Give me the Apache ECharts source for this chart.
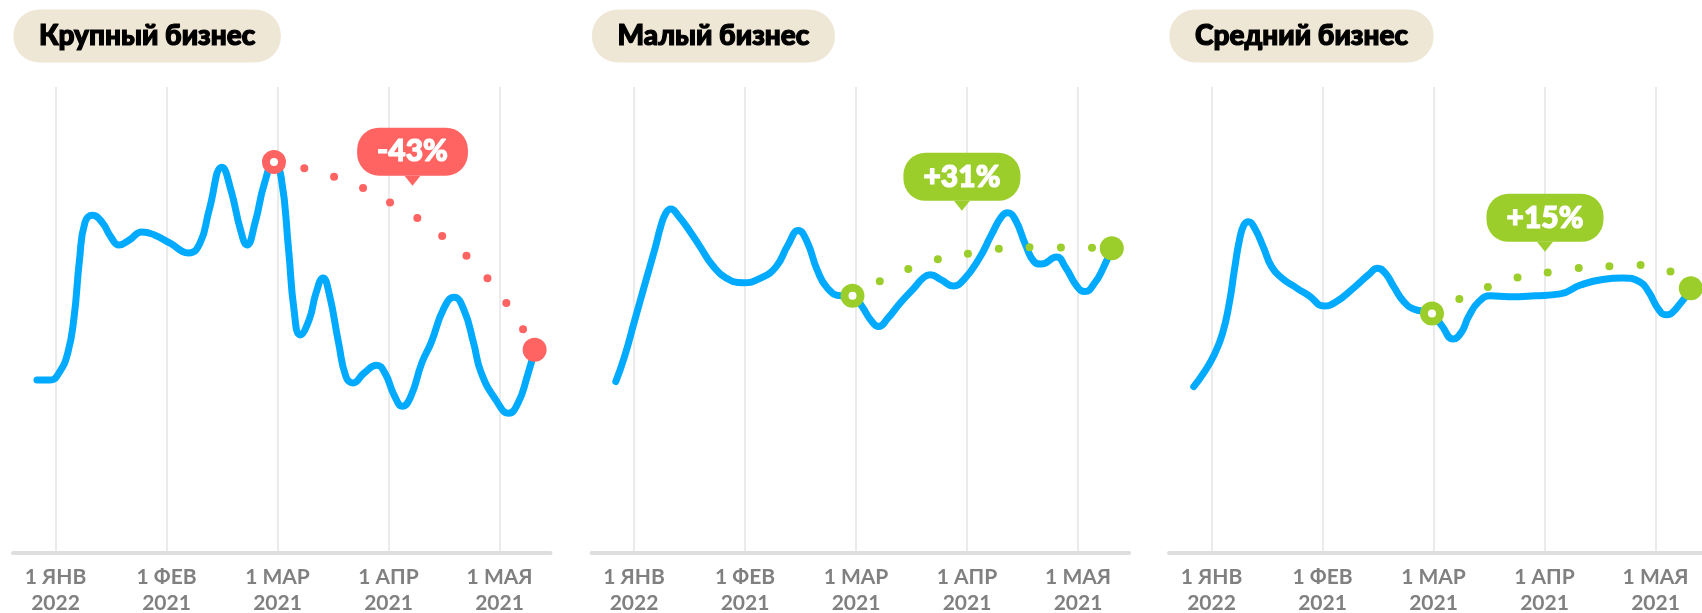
<!DOCTYPE html>
<html>
<head>
<meta charset="utf-8">
<script src="https://cdn.jsdelivr.net/npm/echarts@6/dist/echarts.min.js"></script>
<style>
  html, body { margin: 0; padding: 0; background: #fff; }
  #chart { width: 1702px; height: 613px; }
</style>
</head>
<body>
<div id="chart"></div>
<script>
// x: months from the first tick (1 ЯНВ), y: index 0..100
const titles = ['Крупный бизнес', 'Малый бизнес', 'Средний бизнес']
const tickValues = [0, 1, 2, 3, 4]
const tickLabels = ['1 ЯНВ\n2022', '1 ФЕВ\n2021', '1 МАР\n2021', '1 АПР\n2021', '1 МАЯ\n2021']

const largeLine = [
  [-0.167, 37.1], [-0.05, 37.1], [0.03, 38.6], [0.11, 42.9], [0.167, 50.6], [0.216, 62.9],
  [0.266, 71.0], [0.333, 72.5], [0.419, 71.0], [0.5, 67.8], [0.572, 66.1], [0.667, 67.2],
  [0.779, 68.9], [0.896, 68.2], [1.032, 66.5], [1.2, 64.4], [1.302, 66.5], [1.383, 73.5],
  [1.5, 82.8], [1.581, 77.8], [1.667, 69.3], [1.725, 66.1], [1.797, 70.8], [1.883, 79.4],
  [1.968, 83.9], [2.032, 80.7], [2.1, 65.0], [2.149, 52.1], [2.203, 46.8], [2.284, 50.0],
  [2.347, 55.8], [2.41, 59.0], [2.464, 55.8], [2.55, 45.1], [2.617, 37.8], [2.68, 36.5],
  [2.779, 38.6], [2.893, 40.3], [2.968, 38.6], [3.05, 33.9], [3.126, 31.5], [3.199, 33.5],
  [3.3, 40.8], [3.383, 45.1], [3.5, 52.6], [3.59, 54.9], [3.68, 52.1], [3.766, 45.1],
  [3.833, 38.8], [3.968, 32.8], [4.083, 30.0], [4.167, 32.2], [4.248, 37.8], [4.316, 43.6]
]
const largeTrend = [[1.968, 83.9], [2.523, 80.6], [3.05, 74.7], [3.527, 67.2], [3.941, 57.5], [4.316, 43.6]]
const largeMarks = [[1.968, 83.9], [4.316, 43.6]]
const largeChange = '-43%'
const largeCallout = [3.216, 79.9]

const smallLine = [
  [-0.164, 36.8], [-0.086, 42.1], [0.007, 50.0], [0.1, 57.9], [0.193, 65.7], [0.24, 70.0],
  [0.286, 72.9], [0.332, 73.8], [0.395, 72.5], [0.504, 69.0], [0.596, 65.7], [0.705, 61.8],
  [0.829, 59.0], [0.984, 58.0], [1.14, 59.0], [1.279, 61.4], [1.387, 66.1], [1.48, 69.2],
  [1.559, 66.8], [1.651, 60.7], [1.744, 56.8], [1.868, 55.2], [1.968, 55.2], [2.054, 52.9],
  [2.132, 50.0], [2.204, 48.6], [2.287, 50.4], [2.396, 53.6], [2.52, 56.8], [2.613, 59.2],
  [2.668, 59.7], [2.768, 58.6], [2.877, 57.3], [2.969, 58.6], [3.109, 63.2], [3.218, 68.2],
  [3.311, 72.2], [3.367, 73.0], [3.435, 71.5], [3.528, 66.1], [3.605, 62.5], [3.668, 62.0],
  [3.807, 63.5], [3.885, 61.4], [3.994, 57.1], [4.062, 56.1], [4.149, 57.9], [4.226, 61.1],
  [4.304, 65.4]
]
const smallTrend = [[1.968, 55.2], [2.489, 61.1], [3.053, 64.4], [3.627, 65.6], [4.304, 65.4]]
const smallMarks = [[1.968, 55.2], [4.304, 65.4]]
const smallChange = '+31%'
const smallCallout = [2.954, 74.5]

const mediumLine = [
  [-0.16, 35.7], [-0.069, 38.7], [0.023, 42.5], [0.099, 47.1], [0.16, 53.6], [0.206, 60.7],
  [0.252, 67.2], [0.292, 70.4], [0.334, 71.1], [0.389, 69.7], [0.466, 65.7], [0.542, 61.4],
  [0.634, 59.0], [0.771, 56.8], [0.878, 55.2], [1.016, 53.0], [1.123, 53.9], [1.276, 56.8],
  [1.414, 59.7], [1.496, 61.1], [1.567, 60.0], [1.643, 57.1], [1.734, 53.9], [1.826, 52.3],
  [1.986, 51.4], [2.071, 48.9], [2.177, 45.9], [2.254, 47.5], [2.315, 50.7], [2.407, 53.9],
  [2.514, 55.2], [2.682, 55.0], [2.912, 55.2], [3.141, 55.6], [3.324, 57.5], [3.523, 58.7],
  [3.706, 59.0], [3.859, 58.2], [3.936, 56.1], [4.027, 52.3], [4.095, 51.1], [4.18, 52.3],
  [4.318, 56.8]
]
const mediumTrend = [[1.986, 51.4], [2.514, 57.3], [3.079, 60.4], [3.654, 61.6], [3.941, 61.8], [4.318, 56.8]]
const mediumMarks = [[1.986, 51.4], [4.318, 56.8]]
const mediumChange = '+15%'
const mediumCallout = [3.004, 65.7]

const BLUE = '#00aaff'
const RED = '#ff6462'
const GREEN = '#9bcd2b'
const HEAVY_FONT = "'Lato Black', 'Lato Heavy', Lato"

const panels = [
  { line: largeLine, trend: largeTrend, marks: largeMarks, change: largeChange, callout: largeCallout, color: RED },
  { line: smallLine, trend: smallTrend, marks: smallMarks, change: smallChange, callout: smallCallout, color: GREEN },
  { line: mediumLine, trend: mediumTrend, marks: mediumMarks, change: mediumChange, callout: mediumCallout, color: GREEN }
]

const gridLefts = [13, 591.5, 1169]
const titleLefts = [14, 592.5, 1170]

const chart = echarts.init(document.getElementById('chart'))

const series = []
panels.forEach((p, i) => {
  series.push({
    type: 'line',
    xAxisIndex: i,
    yAxisIndex: i,
    data: p.line,
    smooth: 0.5,
    showSymbol: false,
    lineStyle: { color: BLUE, width: 7, cap: 'round', join: 'round' },
    z: 2
  })
  series.push({
    type: 'line',
    xAxisIndex: i,
    yAxisIndex: i,
    data: p.trend,
    smooth: 0.5,
    showSymbol: false,
    lineStyle: { color: p.color, width: 8, type: [0, 31], cap: 'round' },
    z: 3,
    markPoint: {
      symbol: 'path://M0,0L16,0L8,10Z',
      symbolSize: [16, 10],
      itemStyle: { color: p.color, opacity: 1 },
      label: {
        show: true,
        position: 'top',
        distance: 0,
        formatter: p.change,
        color: '#fff',
        fontFamily: HEAVY_FONT,
        fontWeight: 900,
        fontSize: 30,
        lineHeight: 30,
        textBorderColor: '#fff',
        textBorderWidth: 1.2,
        backgroundColor: p.color,
        borderRadius: 22,
        padding: [9, 20]
      },
      data: [{ coord: p.callout }]
    }
  })
  series.push({
    type: 'scatter',
    xAxisIndex: i,
    yAxisIndex: i,
    z: 4,
    data: [
      { value: p.marks[0], symbolSize: 16, itemStyle: { color: '#fff', borderColor: p.color, borderWidth: 8, opacity: 1 } },
      { value: p.marks[1], symbolSize: 24, itemStyle: { color: p.color, opacity: 1 } }
    ]
  })
})

const option = {
  animation: false,
  title: titles.map((t, i) => ({
    text: t,
    left: titleLefts[i],
    top: 10,
    backgroundColor: '#efe7d6',
    borderRadius: 26,
    padding: [12, 25],
    textStyle: {
      fontFamily: HEAVY_FONT,
      fontWeight: 900,
      fontSize: 28,
      lineHeight: 28,
      color: '#000',
      textBorderColor: '#000',
      textBorderWidth: 1.2
    }
  })),
  grid: gridLefts.map((left) => ({
    left: left,
    width: 537.5,
    top: 87,
    bottom: 60,
    containLabel: false,
    outerBoundsMode: 'none'
  })),
  xAxis: gridLefts.map((_, i) => ({
    type: 'value',
    gridIndex: i,
    min: -0.383,
    max: 4.459,
    axisLine: { show: true, lineStyle: { color: '#dedede', width: 4, cap: 'round' } },
    axisTick: { show: false, customValues: tickValues },
    splitLine: { show: true, lineStyle: { color: '#ebebeb', width: 2 } },
    axisLabel: {
      customValues: tickValues,
      formatter: (v) => tickLabels[Math.round(v)],
      color: '#808080',
      fontFamily: 'Lato',
      fontWeight: 'bold',
      fontSize: 21,
      lineHeight: 26,
      margin: 11
    }
  })),
  yAxis: gridLefts.map((_, i) => ({
    type: 'value',
    gridIndex: i,
    min: 0,
    max: 100,
    show: false,
    splitLine: { show: false }
  })),
  series: series
}

chart.setOption(option)
</script>
</body>
</html>
